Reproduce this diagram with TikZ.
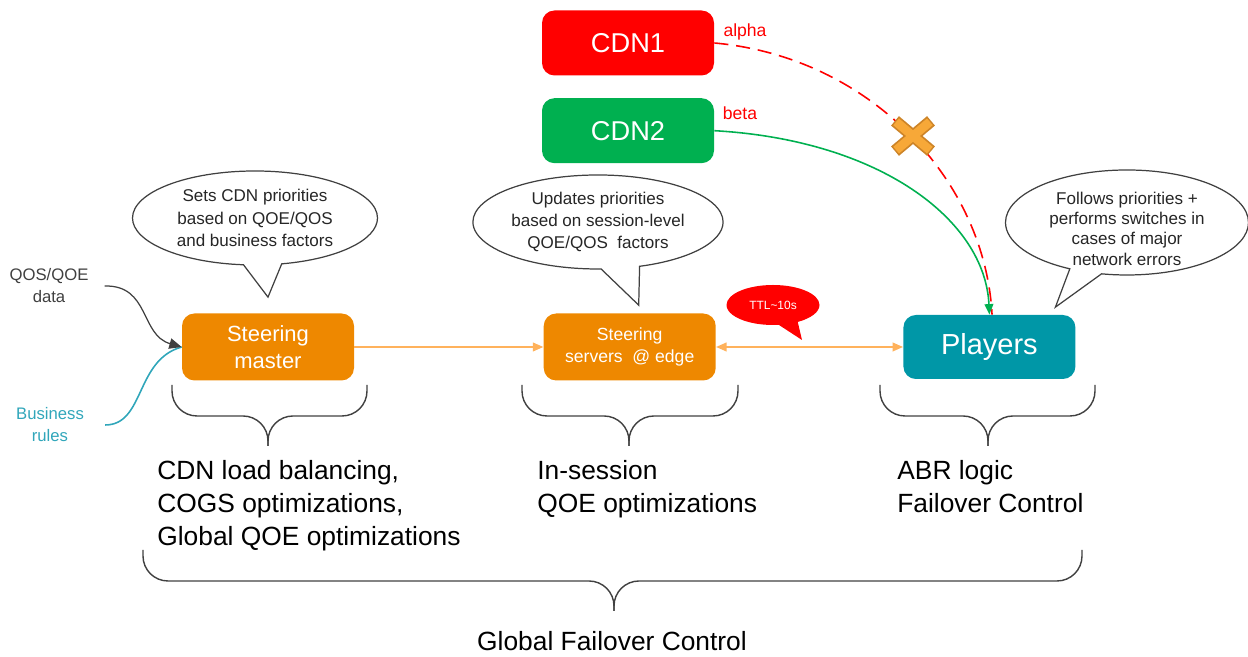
\documentclass[tikz,border=0pt]{standalone}
\usepackage{fontspec}
\setmainfont{Liberation Sans}
\usetikzlibrary{shapes.callouts,arrows.meta,positioning,calc}

\definecolor{steerorange}{RGB}{238,136,0}
\definecolor{lightorange}{RGB}{255,178,92}
\definecolor{cdnred}{RGB}{255,0,0}
\definecolor{cdngreen}{RGB}{0,176,80}
\definecolor{playerteal}{RGB}{0,151,167}
\definecolor{ruleteal}{RGB}{48,166,186}
\definecolor{crossfill}{RGB}{247,168,56}
\definecolor{crossedge}{RGB}{205,132,40}
\definecolor{darkline}{RGB}{64,64,64}

% curly brace: left x, right x, top y, tip x
\newcommand{\curlybr}[4]{%
  \draw[curly] (#1,#3) -- (#1,#3-0.62) -- (#4,#3-0.62) -- (#4,#3-1.22);
  \draw[curly] (#2,#3) -- (#2,#3-0.62) -- (#4,#3-0.62) -- (#4,#3-1.22);}

\begin{document}
\begin{tikzpicture}[
    box/.style={rectangle, rounded corners=0.25cm, minimum width=3.44cm, minimum height=1.34cm, text=white, align=center, inner sep=2pt},
    cdnbox/.style={box, minimum height=1.3cm, font=\fontsize{15.5}{18}\selectfont},
    steerbox/.style={box, fill=steerorange},
    bubble/.style={ellipse callout, draw=darkline, line width=0.7pt, fill=white, align=center, inner sep=1pt, minimum width=4.9cm, minimum height=1.88cm, callout pointer arc=18, text=black!85, font=\fontsize{9.7}{12.7}\selectfont},
    note/.style={anchor=north west, align=left, inner sep=0pt, font=\fontsize{15}{18.7}\selectfont},
    side/.style={align=center, font=\fontsize{9.5}{12.5}\selectfont},
    link/.style={lightorange, line width=0.9pt},
    headed/.style={-{Triangle[length=6pt,width=5pt]}},
    curly/.style={darkline, line width=0.8pt, rounded corners=0.5cm}
]
    \useasboundingbox (0,0) rectangle (24.96,13.14);

    % Boxes
    \node[cdnbox, fill=cdnred] (CDN1) at (12.56,12.28) {CDN1};
    \node[cdnbox, fill=cdngreen, below=0.44cm of CDN1] (CDN2) {CDN2};
    \node[steerbox, font=\fontsize{12.5}{15.3}\selectfont] (SM) at (5.36,6.2) {Steering\\master};
    \node[steerbox, right=3.78cm of SM, font=\fontsize{10}{12.5}\selectfont] (SE) {Steering\\servers\ \ @ edge};
    \node[box, fill=playerteal, minimum height=1.28cm, right=3.74cm of SE, font=\fontsize{16.5}{19}\selectfont] (PL) {Players};

    % Callouts
    \node[bubble, callout absolute pointer={($(SM.north)+(0,0.32)$)}] (B1) at (5.1,8.78) {Sets CDN priorities\\based on QOE/QOS\\and business factors};
    \node[bubble, minimum width=4.86cm, callout absolute pointer={($(SE.north)+(0.18,0.16)$)}] (B2) at (11.96,8.7) {Updates priorities\\based on session-level\\QOE/QOS\ \ factors};
    \node[bubble, minimum width=4.86cm, minimum height=2.1cm, callout pointer arc=16, callout absolute pointer={($(PL.north)+(1.32,0.15)$)}] (B3) at (22.54,8.69) {};
    \node[align=center, text=black!85, font=\fontsize{9.7}{11.6}\selectfont] (B3t) at (22.54,8.57) {Follows priorities +\\performs switches in\\cases of major\\network errors};
    \node[ellipse callout, fill=cdnred, text=white, minimum width=1.86cm, minimum height=0.8cm, inner sep=0pt, callout pointer arc=25, font=\fontsize{6.8}{8}\selectfont, callout absolute pointer={(16.04,6.34)}] (TTL) at (15.46,7.04) {TTL\textasciitilde10s};

    % Labels
    \node[side, text=darkline] (QD) at (0.98,7.42) {QOS/QOE\\data};
    \node[side, text=ruleteal] (BR) at (1.0,4.64) {Business\\rules};
    \node[text=cdnred, font=\fontsize{10}{12}\selectfont] (AL) at (14.9,12.5) {alpha};
    \node[text=cdnred, font=\fontsize{10}{12}\selectfont] (BE) at (14.8,10.88) {beta};

    % Connections
    \draw[link, headed] (SM) -- (SE);
    \draw[link, {Triangle[length=6pt,width=5pt]}-{Triangle[length=6pt,width=5pt]}] (SE) -- (PL);
    \draw[cdnred, line width=0.9pt, dash pattern=on 8pt off 4.5pt] (CDN1.east) .. controls (17.4,12.0) and (19.7,9.54) .. ([xshift=1.5pt]PL.north);
    \draw[cdngreen, line width=0.9pt, headed] (CDN2.east) .. controls (17.6,10.34) and (19.7,8.74) .. (PL.north);
    \draw[ruleteal, line width=0.9pt] ([xshift=0.3cm]BR.east) .. controls (2.9,4.64) and (2.7,5.94) .. (SM.west);
    \draw[darkline, line width=0.7pt, -{Triangle[length=7pt,width=6pt]}] ([xshift=0.2cm]QD.east) .. controls (3.0,7.44) and (2.8,6.44) .. (SM.west);

    % Cross on the CDN1 path
    \coordinate (XM) at (18.26,10.42);
    \foreach \w/\c/\l in {7pt/crossedge/0.47, 5pt/crossfill/0.44}
      \foreach \a in {40,140}
        \draw[\c, line width=\w] ($(XM)+(\a:\l)$) -- ($(XM)+(\a+180:\l)$);

    % Braces
    \curlybr{3.44}{7.34}{5.44}{5.36}
    \curlybr{10.44}{14.76}{5.44}{12.58}
    \curlybr{17.6}{21.9}{5.44}{19.76}
    \curlybr{2.86}{21.64}{2.14}{12.28}

    % Notes
    \node[note] (N1) at (3.14,3.94) {CDN load balancing,\\COGS optimizations,\\Global QOE optimizations};
    \node[note] (N2) at (10.74,3.94) {In-session\\QOE optimizations};
    \node[note] (N3) at (17.94,3.94) {ABR logic\\Failover Control};
    \node[font=\fontsize{15}{18}\selectfont] (GF) at (12.24,0.32) {Global Failover Control};
\end{tikzpicture}
\end{document}
